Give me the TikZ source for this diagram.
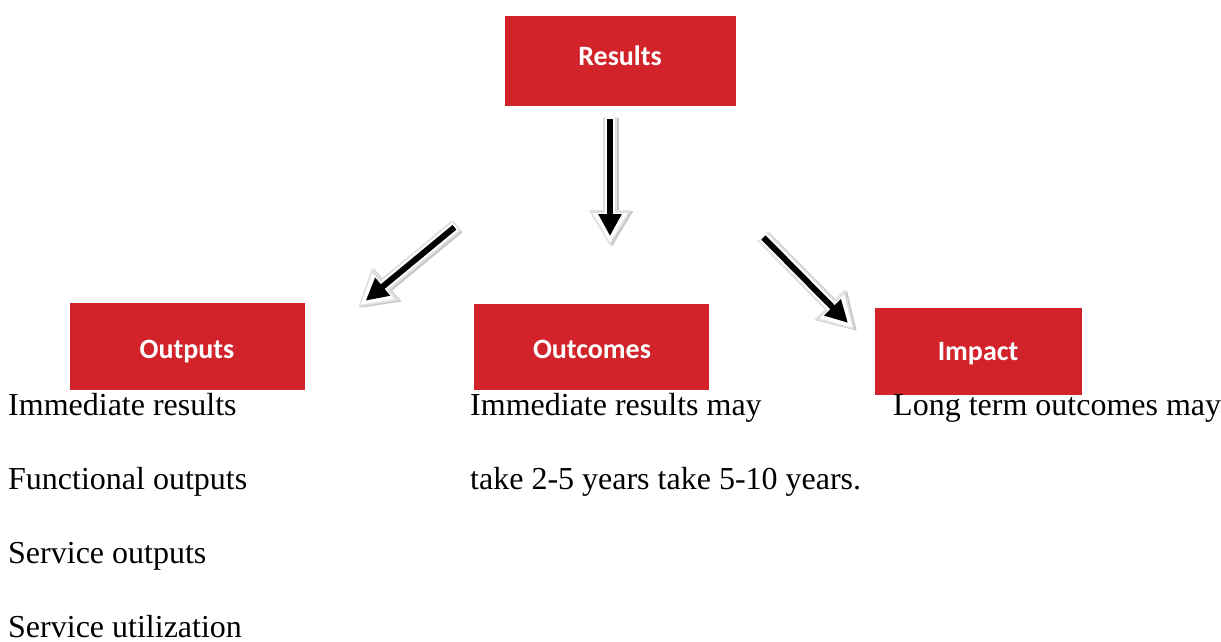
\documentclass[tikz,border=0pt]{standalone}
\usepackage{fontspec}
\setmainfont{Liberation Serif}
\newfontfamily\boxfont{Carlito}
\usetikzlibrary{arrows.meta}
\definecolor{boxred}{RGB}{210,35,42}
\tikzset{
  boxlabel/.style={inner sep=0pt, text=white, font=\boxfont\bfseries\fontsize{28}{32}\selectfont},
  bodytext/.style={anchor=base west, inner sep=0pt, font=\fontsize{32}{38}\selectfont},
  arrowshadow/.style={draw=black!22, line width=14pt, -{Triangle[length=36pt,width=40pt]}},
  arrowrim/.style={draw=black!12, line width=14pt, -{Triangle[length=36pt,width=40pt]}},
  arrowhalo/.style={draw=white, line width=10pt, -{Triangle[length=30pt,width=32pt]}, shorten >=3pt},
  arrowcore/.style={draw=black, line width=6pt, -{Triangle[length=22pt,width=22pt]}, shorten >=10pt, shorten <=2pt},
}
\begin{document}
\begin{tikzpicture}[x=1pt,y=-1pt]
\useasboundingbox (0,0) rectangle (1221,641);
% boxes
\fill[boxred] (505,16) rectangle (736,106);
\node[boxlabel] (results) at (620,56) {Results};
\fill[boxred] (70,303) rectangle (305,390);
\node[boxlabel] (outputs) at (187,352) {Outputs};
\fill[boxred] (474,304) rectangle (709,390);
\node[boxlabel] (outcomes) at (592,349) {Outcomes};
\fill[boxred] (875,308) rectangle (1082,395);
\node[boxlabel] (impact) at (978,354) {Impact};
% arrows
\coordinate (lA) at (456,226);
\coordinate (lB) at (358,307);
\coordinate (mA) at (610,117);
\coordinate (mB) at (610,246);
\coordinate (rA) at (762,236);
\coordinate (rB) at (855,330);
\foreach \a/\b in {lA/lB, mA/mB, rA/rB}{
  \draw[arrowshadow] ([shift={(2,1)}]\a) -- ([shift={(2,1)}]\b);
  \draw[arrowrim] (\a) -- (\b);
  \draw[arrowhalo] (\a) -- (\b);
  \draw[arrowcore] (\a) -- (\b);
}
% text
\node[bodytext] (t1) at (8,415) {Immediate results};
\node[bodytext] (t2) at (8,489) {Functional outputs};
\node[bodytext] (t3) at (8,563) {Service outputs};
\node[bodytext] (t4) at (8,637) {Service utilization};
\node[bodytext] (t5) at (470,415) {Immediate results may};
\node[bodytext] (t6) at (470,489) {take 2-5 years take 5-10 years.};
\node[bodytext] (t7) at (893,415) {Long term outcomes may};
\end{tikzpicture}
\end{document}
